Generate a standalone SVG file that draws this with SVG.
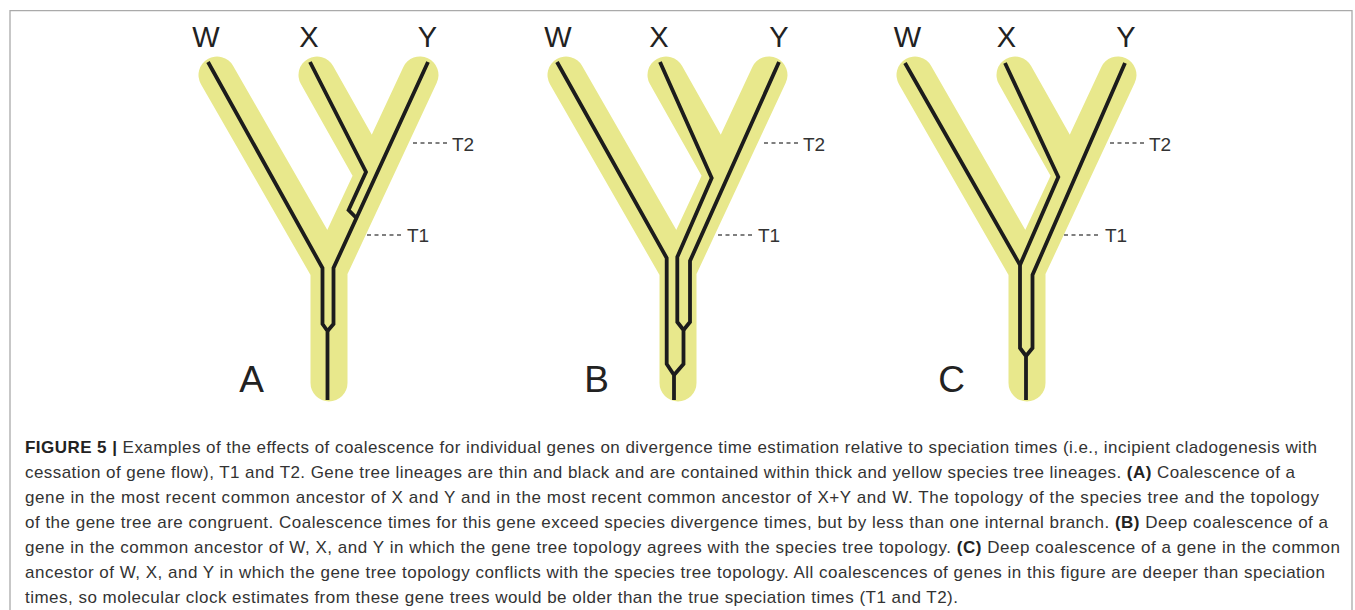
<svg xmlns="http://www.w3.org/2000/svg" xmlns:xlink="http://www.w3.org/1999/xlink" width="1355" height="610" viewBox="0 0 1355 610">
<style>
.sp{fill:none;stroke:#E8E88C;stroke-width:37;stroke-linecap:round;stroke-linejoin:round}
.gn{fill:none;stroke:#1c1c1c;stroke-width:3.8;stroke-linejoin:miter;stroke-linecap:butt}
.tip{font-family:"Liberation Sans",Arial,sans-serif;font-size:29px;fill:#222;text-anchor:middle}
.pl{font-family:"Liberation Sans",Arial,sans-serif;font-size:37px;fill:#222;text-anchor:middle}
.tm{font-family:"Liberation Sans",Arial,sans-serif;font-size:19px;fill:#333}
.dash{fill:none;stroke:#555;stroke-width:1.3;stroke-dasharray:4 3.5}
.cap{font-family:"Liberation Sans",Arial,sans-serif;font-size:17px;fill:#333}
.b{font-weight:bold;fill:#222}
.frame{fill:none;stroke:#aaa;stroke-width:1.3}
</style>
<defs>
<path id="species" d="M217,75 L329,270 L420,75 M317,75 L373.3,175 M329,270 L329,383"/>
</defs>
<path class="frame" d="M10,612 V10.7 H1352 V612"/>

<g id="panel-A">
<use xlink:href="#species" href="#species" class="sp"/>
<g id="gene-A">
<path class="gn" d="M208,62 L322.5,268 L322.5,324 L327.5,331 L327.5,400"/>
<path class="gn" d="M428,62 L333.5,268 L333.5,324 L327.5,331"/>
<path class="gn" d="M310,62 L366,172 L348.6,210 L356.4,218"/>
</g>
<text class="tip" x="206" y="47">W</text>
<text class="tip" x="309" y="47">X</text>
<text class="tip" x="427.5" y="47">Y</text>
<text class="pl" x="251.5" y="392">A</text>
<text class="tm" x="452" y="150.5">T2</text>
<text class="tm" x="407" y="242">T1</text>
</g>

<g id="panel-B">
<use xlink:href="#species" href="#species" class="sp" transform="translate(349,0)"/>
<g id="gene-B">
<path class="gn" d="M557,62 L666.7,258 L666.7,364 L674,375 L674,400"/>
<path class="gn" d="M660,62 L711.7,178 L677.3,257 L677.3,322 L683.5,330 L683.5,364 L674,375"/>
<path class="gn" d="M779,62 L690,261 L690,322 L683.5,330"/>
</g>
<text class="tip" x="558" y="47">W</text>
<text class="tip" x="659" y="47">X</text>
<text class="tip" x="779" y="47">Y</text>
<text class="pl" x="596.5" y="392">B</text>
<text class="tm" x="803" y="150.5">T2</text>
<text class="tm" x="758" y="242">T1</text>
</g>

<g id="panel-C">
<use xlink:href="#species" href="#species" class="sp" transform="translate(698,0)"/>
<g id="gene-C">
<path class="gn" d="M905,63 L1020,265 L1020,348 L1026,356 L1026,400"/>
<path class="gn" d="M1005,63 L1058.3,177 L1020,265"/>
<path class="gn" d="M1125,63 L1032.5,275 L1032.5,348 L1026,356"/>
</g>
<text class="tip" x="907.5" y="47">W</text>
<text class="tip" x="1006.5" y="47">X</text>
<text class="tip" x="1126" y="47">Y</text>
<text class="pl" x="951.5" y="392">C</text>
<text class="tm" x="1149" y="150.5">T2</text>
<text class="tm" x="1105" y="242">T1</text>
</g>

<g id="connectors">
<path class="dash" d="M413,143 H449 M367,235 H403"/>
<path class="dash" d="M764,143 H800 M718,235 H754"/>
<path class="dash" d="M1110,143 H1146 M1064,235 H1100"/>
</g>

<g id="caption">
<text class="cap" x="25" y="452.5" textLength="1292" lengthAdjust="spacing"><tspan class="b">FIGURE 5 |</tspan> Examples of the effects of coalescence for individual genes on divergence time estimation relative to speciation times (i.e., incipient cladogenesis with</text>
<text class="cap" x="25" y="477.5" textLength="1270" lengthAdjust="spacing">cessation of gene flow), T1 and T2. Gene tree lineages are thin and black and are contained within thick and yellow species tree lineages. <tspan class="b">(A)</tspan> Coalescence of a</text>
<text class="cap" x="25" y="502.5" textLength="1294" lengthAdjust="spacing">gene in the most recent common ancestor of X and Y and in the most recent common ancestor of X+Y and W. The topology of the species tree and the topology</text>
<text class="cap" x="25" y="527.5" textLength="1303" lengthAdjust="spacing">of the gene tree are congruent. Coalescence times for this gene exceed species divergence times, but by less than one internal branch. <tspan class="b">(B)</tspan> Deep coalescence of a</text>
<text class="cap" x="25" y="552.5" textLength="1315" lengthAdjust="spacing">gene in the common ancestor of W, X, and Y in which the gene tree topology agrees with the species tree topology. <tspan class="b">(C)</tspan> Deep coalescence of a gene in the common</text>
<text class="cap" x="25" y="577.5" textLength="1300" lengthAdjust="spacing">ancestor of W, X, and Y in which the gene tree topology conflicts with the species tree topology. All coalescences of genes in this figure are deeper than speciation</text>
<text class="cap" x="25" y="602.5" textLength="933" lengthAdjust="spacing">times, so molecular clock estimates from these gene trees would be older than the true speciation times (T1 and T2).</text>
</g>
</svg>
